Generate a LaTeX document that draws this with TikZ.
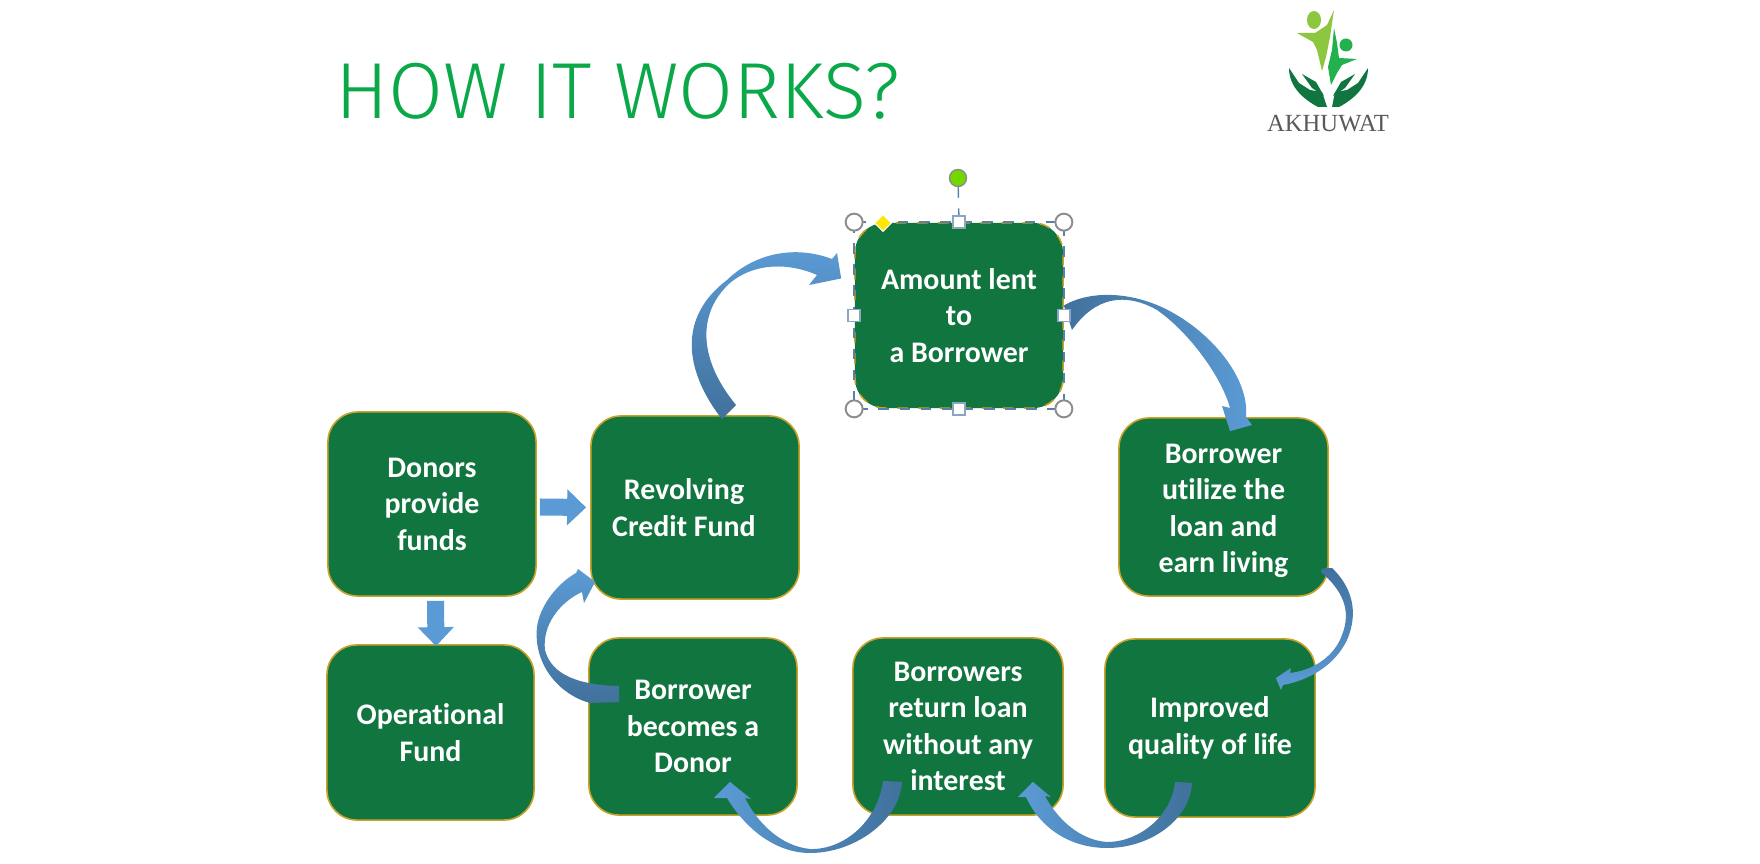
\documentclass[tikz,border=0pt]{standalone}
\usepackage{fontspec}
\usepackage{xcolor}
\usepackage{tikz}
\usetikzlibrary{arrows.meta,positioning,calc,shapes.geometric}
\setmainfont[Ligatures=NoCommon]{Carlito}
\newfontfamily\titlefont{Fira Sans Light}
\newfontfamily\logofont{Liberation Serif}
\definecolor{boxgreen}{HTML}{117540}
\definecolor{boxgold}{HTML}{C9A227}
\definecolor{arrowlight}{HTML}{5B9BD5}
\definecolor{arrowdark}{HTML}{41719C}
\definecolor{titlegreen}{HTML}{0BA84A}
\definecolor{framegray}{HTML}{5B7FA8}
\definecolor{logolime}{HTML}{8DC63F}
\definecolor{logogreen}{HTML}{22B14C}

\begin{document}
\begin{tikzpicture}[x=0.01cm,y=-0.01cm,
    stagebox/.style={draw=boxgold,line width=0.45pt,fill=boxgreen,rounded corners=0.3cm,
      minimum width=2.08cm,minimum height=1.8cm,inner sep=0pt,align=center,text=white,
      font=\bfseries\fontsize{8.5}{10.4}\selectfont},
    blockarrow/.style={draw=arrowlight,line width=0.17cm,
      -{Triangle[length=0.19cm,width=0.35cm]}},
    bendarrow/.style={top color=arrowlight,bottom color=arrowdark},
    bendarrowh/.style={left color=arrowdark,right color=arrowlight},
    bendarrowr/.style={left color=arrowlight,right color=arrowdark},
    ringhandle/.style={circle,draw=black!45,line width=0.55pt,fill=white,
      minimum size=0.17cm,inner sep=0pt},
    sqhandle/.style={draw=framegray!70,line width=0.4pt,fill=white,
      minimum size=0.12cm,inner sep=0pt},
    selframe/.style={draw=framegray,line width=0.4pt,dash pattern=on 3pt off 3pt}
  ]
    \useasboundingbox (0,0) rectangle (1760,864);

    \node[anchor=west,text=titlegreen,inner sep=0pt,font=\titlefont\fontsize{22.6}{28}\selectfont]
      (title) at (335,91) {HOW IT WORKS?};

    % logo
    \fill[logolime] (1314,20) ellipse (7 and 9);
    \fill[logolime] (1297,33) -- (1315,33) -- (1327,25) -- (1334,10)
      -- (1330,37) -- (1326,57) -- (1322,71) -- (1317,50) -- (1313,42) -- cycle;
    \fill[logogreen] (1346,45) circle (6.5);
    \fill[logogreen] (1334,28) -- (1337,43) -- (1339,58) -- (1357,59) -- (1342,65)
      -- (1337,73) -- (1331,85) -- (1328,67) -- (1332,50) -- cycle;
    \fill[boxgreen] (1289,68) -- (1299,83) -- (1310,90) -- (1322,92) -- (1327,107) -- (1318,107)
      .. controls (1305,100) and (1289,88) .. (1289,68) -- cycle;
    \fill[boxgreen] (1302,74) -- (1316,82) -- (1324,96) -- (1312,88) -- cycle;
    \fill[boxgreen] (1368,68) -- (1358,83) -- (1347,90) -- (1335,92) -- (1332,107) -- (1339,107)
      .. controls (1352,100) and (1368,88) .. (1368,68) -- cycle;
    \fill[boxgreen] (1355,74) -- (1341,82) -- (1333,96) -- (1345,88) -- cycle;
    \node[text=black!65,inner sep=0pt,font=\logofont\fontsize{7}{8}\selectfont]
      (logotext) at (1328,124) {AKHUWAT};

    % stages
    \node[stagebox,minimum height=1.84cm] (donors) at (432,504) {Donors\\provide\\funds};
    \node[stagebox,minimum height=1.83cm] (revolving) at (695,507.5)
      {Revolving\hspace*{0.22cm}\\Credit Fund\hspace*{0.22cm}};
    \node[stagebox,minimum height=1.85cm,dashed] (amount) at (959,315.5) {Amount lent\\to\\a Borrower};
    \node[stagebox,minimum width=2.09cm,minimum height=1.78cm] (utilize) at (1223.5,507)
      {\rule{0pt}{0.27cm}Borrower\\utilize the\\loan and\\earn living};
    \node[stagebox,minimum width=2.07cm,minimum height=1.75cm] (operational) at (430.5,732.5)
      {Operational\\Fund};
    \node[stagebox,minimum height=1.77cm] (becomes) at (693,726.5) {Borrower\\becomes a\\Donor};
    \node[stagebox,minimum width=2.1cm,minimum height=1.77cm] (repay) at (958,726.5)
      {Borrowers\\return loan\\without any\\interest};
    \node[stagebox,minimum width=2.1cm,minimum height=1.78cm] (improved) at (1210,728)
      {Improved\\quality of life};

    % straight arrows
    \draw[blockarrow] ($(donors.east)+(3,3)$) -- ($(revolving.west)+(-4,0)$);
    \draw[blockarrow] ($(donors.south)+(3.5,4)$) -- ($(operational.north)+(5.5,2)$);

    % bent arrows
    \shade[bendarrow] ($(revolving.north)+(27,4)$) .. controls (695,385) and (668,325) .. (727,280)
      .. controls (755,253) and (795,245) .. (832,259) -- (837,253) -- ($(amount.west)+(-13,-37)$)
      -- (809,285) -- (817,275) .. controls (790,263) and (755,262) .. (730,283)
      .. controls (700,310) and (695,355) .. (736,405) -- cycle;
    \shade[bendarrowh] (amount.east) ++(0,-10) .. controls (1085,293) and (1120,290) .. (1157,305)
      .. controls (1205,325) and (1250,375) .. (1246,417) -- (1252,425) -- ($(utilize.north)+(6.5,14)$)
      -- (1222,406) -- (1230,408) .. controls (1222,378) and (1190,333) .. (1157,310)
      .. controls (1125,292) and (1095,297) .. (1072,330) -- cycle;
    \shade[top color=arrowdark,bottom color=arrowlight] ($(utilize.south east)+(-7,-28)$)
      .. controls (1325,568) and (1330,568) .. (1332,568)
      .. controls (1350,585) and (1360,610) .. (1347,640)
      .. controls (1335,665) and (1310,680) .. (1283,685) -- (1281,690)
      -- ($(improved.east)+(-40,-50)$) -- (1291,668) -- (1290,673)
      .. controls (1315,670) and (1335,655) .. (1342,635)
      .. controls (1352,610) and (1342,590) .. (1321,572) -- cycle;
    \shade[bendarrowr] ($(improved.south)+(-18,-35)$) .. controls (1190,820) and (1150,848) .. (1107,848)
      .. controls (1070,848) and (1040,828) .. (1026,797) -- (1018,797) -- ($(repay.south east)+(-31,-34)$)
      -- (1051,797) -- (1045,796) .. controls (1058,820) and (1080,840) .. (1107,842)
      .. controls (1140,842) and (1172,815) .. (1175,782) -- cycle;
    \shade[bendarrowr] ($(repay.south)+(-56,-34)$) .. controls (900,820) and (855,853) .. (810,853)
      .. controls (775,853) and (745,828) .. (727,798) -- (714,798) -- ($(becomes.south)+(37,-34)$)
      -- (751,799) -- (745,798) .. controls (757,822) and (780,846) .. (810,849)
      .. controls (845,850) and (878,820) .. (883,781) -- cycle;
    \shade[bendarrow] ($(becomes.north)+(-74,65)$) -- (590,703) .. controls (560,695) and (533,665) .. (537,627)
      .. controls (540,605) and (558,583) .. (576,573) -- (578,569) -- ($(revolving.south west)+(5,-18)$)
      -- (584,603) -- (582,592) .. controls (560,602) and (542,625) .. (545,650)
      .. controls (550,670) and (570,685) .. (619,686) -- cycle;

    % selection handles
    \draw[selframe] (amount.north west) rectangle (amount.south east);
    \node[circle,draw=black!45,line width=0.4pt,fill=lime!70!green!85!black,minimum size=0.17cm,
      inner sep=0pt] (rothandle) at (958,178) {};
    \draw[selframe] (rothandle) -- (amount.north);
    \foreach \h/\a in {nw/north west,ne/north east,se/south east,sw/south west} {
      \node[ringhandle] (ring\h) at (amount.\a) {};
    }
    \foreach \h/\a in {n/north,e/east,s/south,w/west} {
      \node[sqhandle] (sq\h) at (amount.\a) {};
    }
    \node[diamond,draw=white,line width=0.3pt,fill=yellow!90!orange,minimum size=0.17cm,inner sep=0pt]
      (cornerhandle) at (883,223) {};
  \end{tikzpicture}
\end{document}
